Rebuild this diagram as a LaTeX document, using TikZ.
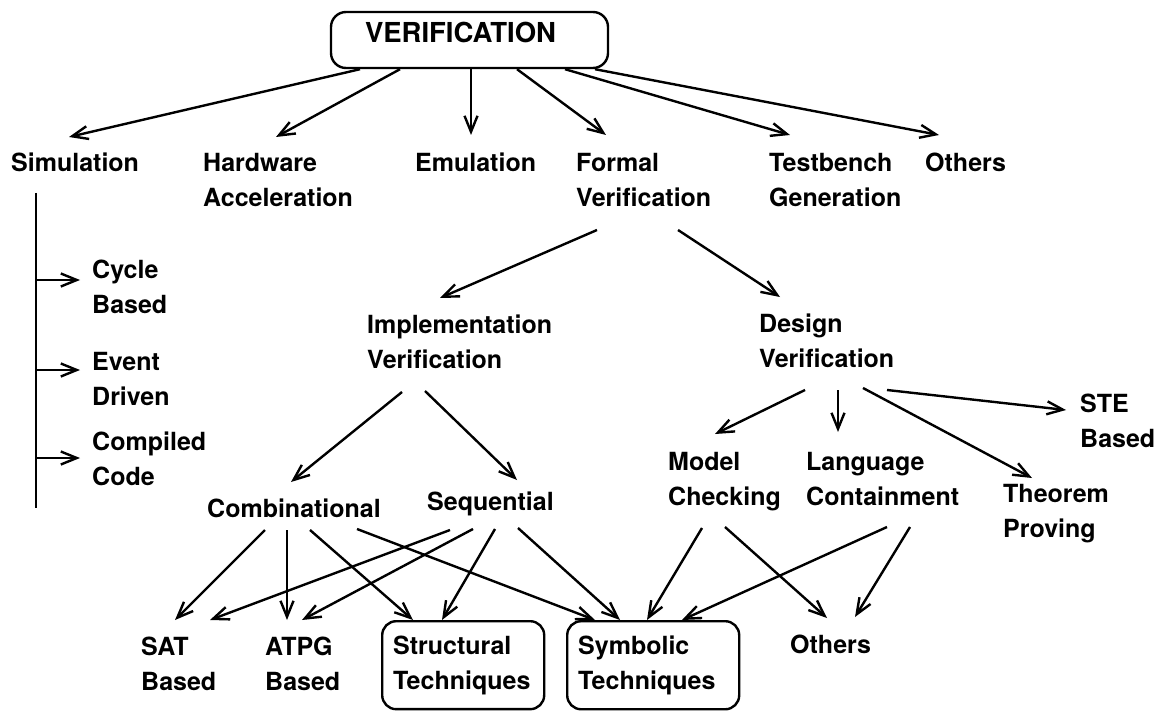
\documentclass[tikz,border=0pt]{standalone}
\usepackage{fontspec}
\setmainfont{TeX Gyre Heros}
\usetikzlibrary{arrows.meta,calc}

% two stacked lines whose baseline is the first line
\newcommand\twoline[2]{\vtop{\hbox{#1}\hbox{#2}}}

\begin{document}
\begin{tikzpicture}[x=1pt,y=-1pt,
  txt/.style={font=\fontsize{25}{35}\selectfont\bfseries},
  lbl/.style={txt, anchor=base west, inner sep=0pt},
  tbox/.style={txt, anchor=north west, draw, line width=2.4pt, rounded corners=14pt,
               inner xsep=11pt, inner ysep=14.5pt, align=left},
  arr/.style={line width=2.4pt, -{Straight Barb[length=16pt,width=13pt]}},
  rule/.style={line width=2.4pt}]

\useasboundingbox (0,0) rectangle (1166,711);
\fill[white] (0,0) rectangle (1166,711);

% root of the tree
\node[draw, line width=2.4pt, rounded corners=15pt, text width=209pt,
      inner xsep=34pt, inner ysep=0pt, text height=31pt, text depth=25pt,
      align=left, font=\fontsize{27.5}{35}\selectfont\bfseries]
      (root) at (469.5,40) {VERIFICATION};

% first level
\node[lbl] (sim)    at (11,172)  {Simulation};
\node[lbl] (hw)     at (203,172) {\twoline{Hardware}{Acceleration}};
\node[lbl] (emu)    at (415,172) {Emulation};
\node[lbl] (formal) at (576,172) {\twoline{Formal}{Verification}};
\node[lbl] (tb)     at (769,172) {\twoline{Testbench}{Generation}};
\node[lbl] (oth)    at (925,172) {Others};

\draw[arr] ($(root.south)+(-109.5,0)$) -- ($(sim.base west)+(58,-35)$);
\draw[arr] ($(root.south)+(-69.5,0)$)  -- ($(hw.base west)+(73,-35)$);
\draw[arr] ($(root.south)+(1.5,0)$)    -- ($(emu.base west)+(56,-37)$);
\draw[arr] ($(root.south)+(47.5,0)$)   -- ($(formal.base west)+(30,-37)$);
\draw[arr] ($(root.south)+(95.5,0)$)   -- ($(tb.base west)+(21,-37)$);
\draw[arr] ($(root.south)+(125.5,0)$)  -- ($(oth.base west)+(14,-37)$);

% simulation kinds
\node[lbl] (cyc) at (92,278) {\twoline{Cycle}{Based}};
\node[lbl] (evt) at (92,370) {\twoline{Event}{Driven}};
\node[lbl] (cmp) at (92,450) {\twoline{Compiled}{Code}};
\coordinate (simend) at ($(sim.base west)+(25,336)$);
\draw[rule] ($(sim.base west)+(25,21)$) -- (simend);
\draw[arr] ($(cyc.base west)+(-56,2)$) -- ($(cyc.base west)+(-12,2)$);
\draw[arr] ($(evt.base west)+(-56,0)$) -- ($(evt.base west)+(-12,0)$);
\draw[arr] ($(cmp.base west)+(-56,8)$) -- ($(cmp.base west)+(-12,8)$);

% formal verification
\node[lbl] (impl)   at (367,333) {\twoline{Implementation}{Verification}};
\node[lbl] (design) at (759,332) {\twoline{Design}{Verification}};
\draw[arr] ($(formal.base west)+(21,58)$)  -- ($(impl.base west)+(73,-35)$);
\draw[arr] ($(formal.base west)+(102,58)$) -- ($(design.base west)+(21,-35)$);

% implementation verification
\node[lbl] (comb) at (207,517) {Combinational};
\node[lbl] (seq)  at (427,510) {Sequential};
\draw[arr] ($(impl.base west)+(35,59)$) -- ($(comb.base west)+(84,-35)$);
\draw[arr] ($(impl.base west)+(58,58)$) -- ($(seq.base west)+(90,-30)$);

% design verification
\node[lbl] (model) at (668,470)  {\twoline{Model}{Checking}};
\node[lbl] (lang)  at (806,470)  {\twoline{Language}{Containment}};
\node[lbl] (thm)   at (1003,502) {\twoline{Theorem}{Proving}};
\node[lbl] (ste)   at (1080,412) {\twoline{STE}{Based}};
\draw[arr] ($(design.base west)+(46,58)$)  -- ($(model.base west)+(47,-36)$);
\draw[arr] ($(design.base west)+(79,58)$)  -- ($(lang.base west)+(32,-38)$);
\draw[arr] ($(design.base west)+(104,56)$) -- ($(thm.base west)+(29,-24)$);
\draw[arr] ($(design.base west)+(128,58)$) -- ($(ste.base west)+(-14,-2)$);

% techniques
\node[lbl]  (sat)    at (141,655) {\twoline{SAT}{Based}};
\node[lbl]  (atpg)   at (265,655) {\twoline{ATPG}{Based}};
\node[tbox, text width=140pt] (struct) at (381,620) {Structural\\Techniques};
\node[tbox, text width=150pt] (symb)   at (566,620) {Symbolic\\Techniques};
\node[lbl]  (oth2)   at (790,653) {Others};

\draw[arr] ($(comb.base west)+(58,13)$)  -- ($(sat.base west)+(34,-35)$);
\draw[arr] ($(comb.base west)+(80,13)$)  -- ($(atpg.base west)+(22,-35)$);
\draw[arr] ($(comb.base west)+(103,13)$) -- ($(struct.north west)+(32,0)$);
\draw[arr] ($(comb.base west)+(150,12)$) -- ($(symb.north west)+(29,0)$);

\draw[arr] ($(seq.base west)+(23,20)$) -- ($(sat.base west)+(69,-35)$);
\draw[arr] ($(seq.base west)+(46,19)$) -- ($(atpg.base west)+(37,-35)$);
\draw[arr] ($(seq.base west)+(68,19)$) -- ($(struct.north west)+(61,0)$);
\draw[arr] ($(seq.base west)+(91,18)$) -- ($(symb.north west)+(54,0)$);

\draw[arr] ($(model.base west)+(34,58)$) -- ($(symb.north west)+(81,0)$);
\draw[arr] ($(model.base west)+(57,57)$) -- ($(oth2.base west)+(37,-35)$);
\draw[arr] ($(lang.base west)+(81,57)$)  -- ($(symb.north west)+(116,0)$);
\draw[arr] ($(lang.base west)+(104,57)$) -- ($(oth2.base west)+(65,-36)$);
\end{tikzpicture}
\end{document}
